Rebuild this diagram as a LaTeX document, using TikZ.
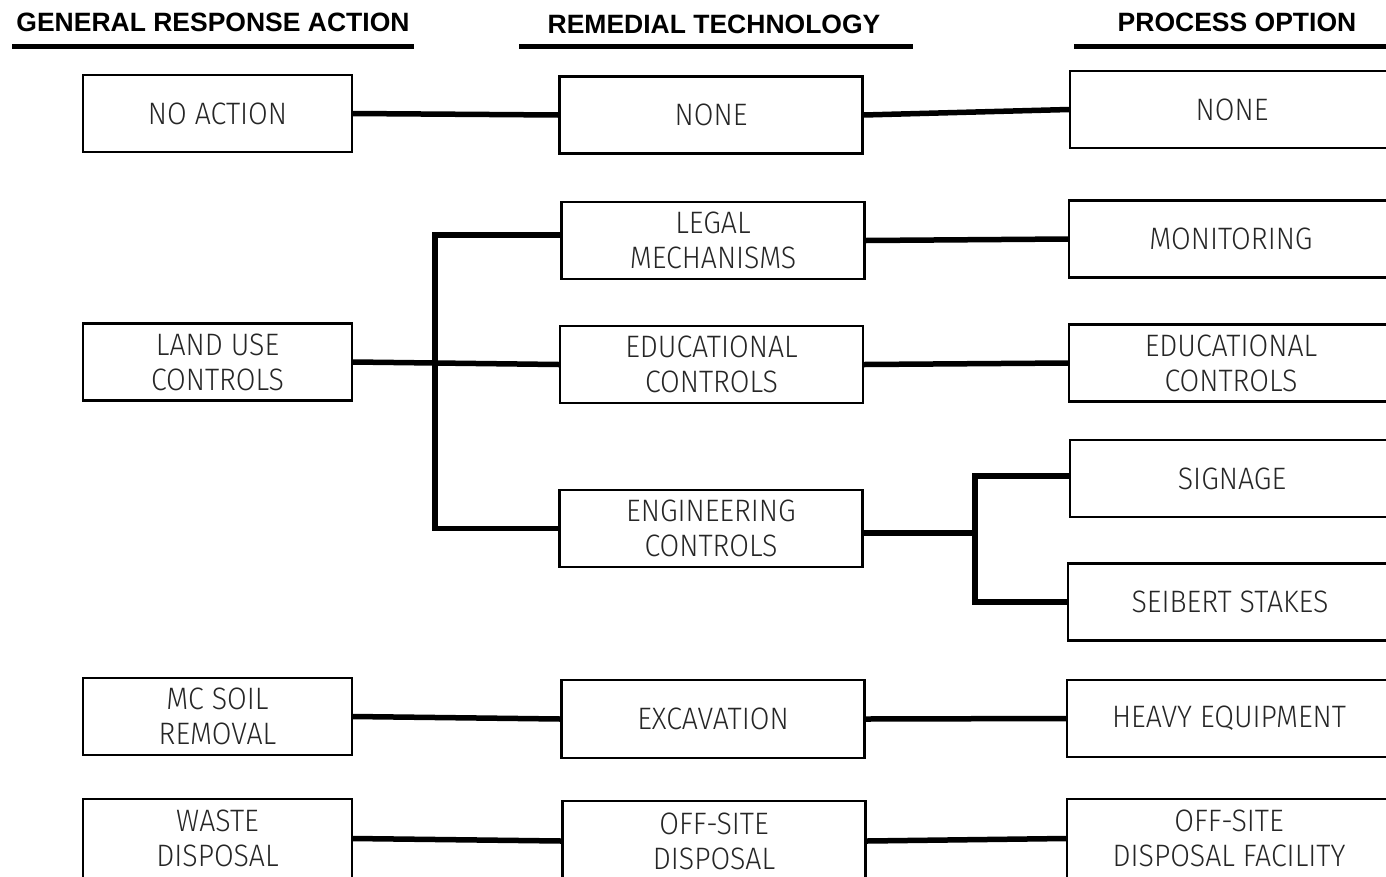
\documentclass[tikz,border=0pt]{standalone}
\usepackage{fontspec}
\newfontfamily\headfont{Liberation Sans}
\newfontfamily\lightfont{Fira Sans Light}[FakeStretch=0.92]
\begin{document}
\begin{tikzpicture}[x=1pt,y=-1pt,
  bx/.style={draw, line width=2.2pt, inner sep=0pt, align=center,
    minimum height=77pt, font={\lightfont\fontsize{31}{35}\selectfont}, text=black!85},
  cA/.style={bx, minimum width=269pt},
  cB/.style={bx, minimum width=303pt},
  cC/.style={bx, minimum width=324pt},
  conn/.style={line width=5.5pt},
  hd/.style={font={\headfont\bfseries\fontsize{26.5}{30}\selectfont}, inner sep=0pt},
  uline/.style={line width=5.5pt}]
\useasboundingbox (0,0) rectangle (1386,876);
\clip (0,0) rectangle (1386,876);
% headings
\node[hd] (h1) at (213,22) {GENERAL RESPONSE ACTION};
\node[hd] (h2) at (714,24) {REMEDIAL TECHNOLOGY};
\node[hd] (h3) at (1237,22) {PROCESS OPTION};
\draw[uline] (12,46.5) -- (414,46.5);
\draw[uline] (519,46.5) -- (913,46.5);
\draw[uline] (1074,46.5) -- (1390,46.5);
% column 1
\node[cA] (na) at (217.5,113.5) {NO ACTION};
\node[cA] (lu) at (217.5,362) {LAND USE\\CONTROLS};
\node[cA] (ms) at (217.5,716.5) {MC SOIL\\REMOVAL};
\node[cA, minimum height=79pt] (wd) at (217.5,838.5) {WASTE\\DISPOSAL};
% column 2
\node[cB] (nn) at (711,115) {NONE};
\node[cB] (lm) at (713,240.5) {LEGAL\\MECHANISMS};
\node[cB] (ed) at (711.5,364.5) {EDUCATIONAL\\CONTROLS};
\node[cB] (ec) at (711,528.5) {ENGINEERING\\CONTROLS};
\node[cB, minimum height=78pt] (ex) at (713,719) {EXCAVATION};
\node[cB, minimum height=80pt] (od) at (714,841) {OFF-SITE\\DISPOSAL};
% column 3
\node[cC] (pn) at (1232,109.5) {NONE};
\node[cC] (mo) at (1231,239) {MONITORING};
\node[cC] (pe) at (1231,363) {EDUCATIONAL\\CONTROLS};
\node[cC] (sg) at (1232,478.5) {SIGNAGE};
\node[cC] (ss) at (1230,602) {SEIBERT STAKES};
\node[cC] (he) at (1229,718.5) {HEAVY EQUIPMENT};
\node[cC, minimum height=79pt] (of) at (1229,838.5) {OFF-SITE\\DISPOSAL FACILITY};
% junctions
\coordinate (jl) at (435,0);
\coordinate (jr) at (975,0);
% connectors
\draw[conn] (na.east) -- (nn.west);
\draw[conn] (nn.east) -- (pn.west);
\draw[conn] (lu.east) -- (ed.west);
\draw[conn] ([yshift=5.5pt]lm.west) -| (jl |- ec.west) -- (ec.west);
\draw[conn] (lm.east) -- (mo.west);
\draw[conn] (ed.east) -- (pe.west);
\draw[conn] ([yshift=-4.5pt]ec.east) -- ([yshift=-4.5pt]jr |- ec.east);
\draw[conn] ([yshift=2.5pt]sg.west) -| (jr |- ss.west) -- (ss.west);
\draw[conn] (ms.east) -- (ex.west);
\draw[conn] (ex.east) -- (he.west);
\draw[conn] (wd.east) -- (od.west);
\draw[conn] (od.east) -- (of.west);
\end{tikzpicture}
\end{document}
